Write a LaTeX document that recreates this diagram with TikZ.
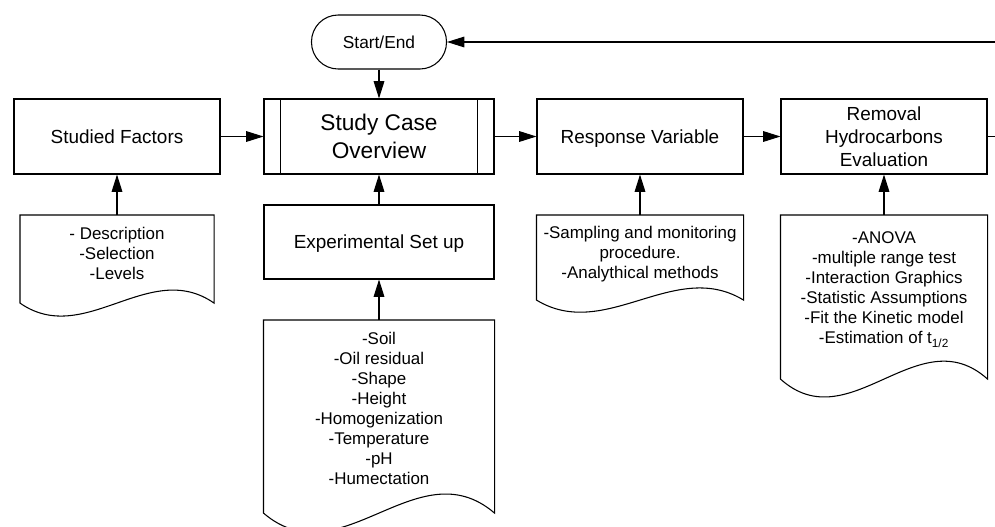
\documentclass[tikz,border=0pt]{standalone}
\usepackage{fontspec}
\setmainfont{Liberation Sans}
\usetikzlibrary{arrows.meta,calc}

\begin{document}
\begin{tikzpicture}[x=0.75pt,y=-0.75pt,line width=0.8pt,
	>={Triangle[length=13pt,width=8pt]},
	box/.style={draw,rectangle,minimum width=154.5pt,minimum height=56.25pt,align=center,font=\fontsize{14.2}{17.5}\selectfont,text depth=0pt},
	docbox/.style={rectangle,minimum width=154.5pt,align=center,anchor=north,font=\fontsize{12.7}{15}\selectfont},
	term/.style={draw,rectangle,rounded corners=20pt,minimum width=101.25pt,minimum height=40.5pt,font=\fontsize{13}{15}\selectfont}]
	\useasboundingbox (0,0) rectangle (995,526);
	\node[term] (start) at (379,42) {Start/End};
	\node[box] (sf) at (117,136.5) {Studied Factors};
	\node[box,minimum width=172.5pt,font=\fontsize{17}{21}\selectfont] (sco) at (379,136.5) {Study Case\\Overview};
	\node[box] (rv) at (640,136.5) {Response Variable};
	\node[box] (rhe) at (884,136.5) {Removal\\Hydrocarbons\\Evaluation};
	\node[box,minimum width=172.5pt,minimum height=55.5pt] (esu) at (379,242) {Experimental Set up};
	\node[docbox,minimum width=144.75pt,minimum height=65.25pt,text depth=8.8pt] (dsf) at (117,215) {- Description\\-Selection\\-Levels};
	\node[docbox,minimum width=172.5pt,minimum height=144pt,text depth=12.8pt] (desu) at (379,320) {-Soil\\-Oil residual\\-Shape\\-Height\\-Homogenization\\-Temperature\\-pH\\-Humectation};
	\node[docbox,minimum height=63pt,text depth=7.5pt] (drv) at (640,215) {-Sampling and monitoring\\procedure.\\-Analythical methods};
	\node[docbox,minimum height=122.25pt,text depth=13.5pt] (drhe) at (884,215) {-ANOVA\\-multiple range test\\-Interaction Graphics\\-Statistic Assumptions\\-Fit the Kinetic model\\-Estimation of t\textsubscript{1/2}};
	\coordinate (out) at (995,136.5);
	\coordinate (back) at (995,42);
	\draw ([xshift=12.75pt]sco.north west) -- ([xshift=12.75pt]sco.south west);
	\draw ([xshift=-12.75pt]sco.north east) -- ([xshift=-12.75pt]sco.south east);
	\foreach \n/\k in {dsf/45,desu/66,drv/42,drhe/62}
		\draw (\n.south west) -- (\n.north west) -- (\n.north east) -- (\n.south east) .. controls ($(\n.south east)!1/3!(\n.south west)+(0,-\k)$) and ($(\n.south east)!2/3!(\n.south west)+(0,\k)$) .. (\n.south west) -- cycle;
	\draw[->] (back) -- (start);
	\draw[->] (start) -- (sco);
	\draw[->] (sf) -- (sco);
	\draw[->] (sco) -- (rv);
	\draw[->] (rv) -- (rhe);
	\draw (rhe) -- (out);
	\draw[->] (dsf) -- (sf);
	\draw[->] (esu) -- (sco);
	\draw[->] (desu) -- (esu);
	\draw[->] (drv) -- (rv);
	\draw[->] (drhe) -- (rhe);
\end{tikzpicture}
\end{document}
